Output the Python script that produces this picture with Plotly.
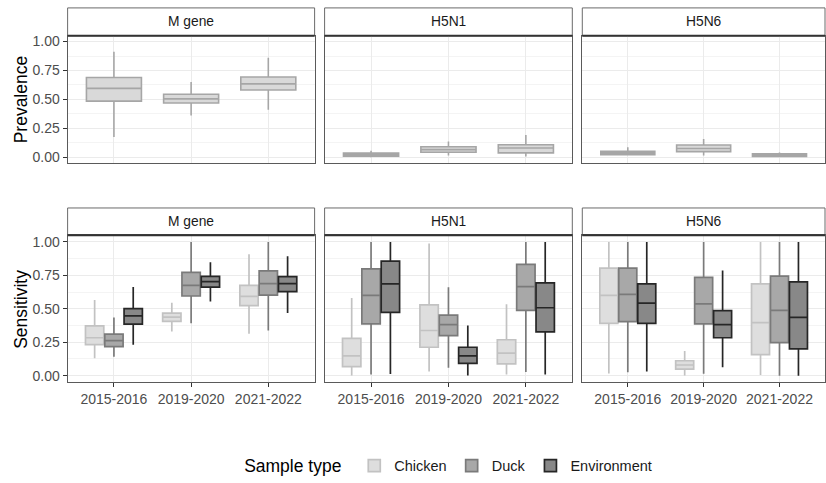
import plotly.graph_objects as go
from plotly.subplots import make_subplots

years = ["2015-2016", "2019-2020", "2021-2022"]
targets = ["M gene", "H5N1", "H5N6"]
sample_types = ["Chicken", "Duck", "Environment"]

# five-number summaries per year: (lower whisker, q1, median, q3, upper whisker)
prevalence = {
    "M gene": [(0.175, 0.485, 0.595, 0.689, 0.912), (0.36, 0.468, 0.504, 0.544, 0.651), (0.41, 0.581, 0.634, 0.694, 0.859)],
    "H5N1": [(0.0, 0.008, 0.02, 0.035, 0.055), (0.014, 0.042, 0.065, 0.09, 0.136), (0.005, 0.037, 0.079, 0.107, 0.192)],
    "H5N6": [(0.014, 0.022, 0.037, 0.051, 0.085), (0.014, 0.048, 0.075, 0.105, 0.156), (0.0, 0.005, 0.015, 0.028, 0.04)],
}
sens_chicken = {
    "M gene": [(0.13, 0.232, 0.284, 0.372, 0.566), (0.331, 0.407, 0.438, 0.468, 0.546), (0.313, 0.524, 0.593, 0.676, 0.909)],
    "H5N1": [(0.002, 0.068, 0.149, 0.279, 0.581), (0.032, 0.213, 0.338, 0.529, 0.988), (0.01, 0.088, 0.169, 0.269, 0.534)],
    "H5N6": [(0.017, 0.392, 0.601, 0.804, 1.0), (0.002, 0.05, 0.08, 0.112, 0.184), (0.005, 0.157, 0.397, 0.686, 1.0)],
}
sens_duck = {
    "M gene": [(0.142, 0.218, 0.262, 0.311, 0.436), (0.392, 0.596, 0.676, 0.772, 1.0), (0.338, 0.603, 0.688, 0.784, 1.0)],
    "H5N1": [(0.01, 0.387, 0.601, 0.799, 1.0), (0.06, 0.299, 0.382, 0.453, 0.662), (0.027, 0.489, 0.666, 0.833, 1.0)],
    "H5N6": [(0.025, 0.404, 0.608, 0.804, 1.0), (0.015, 0.387, 0.537, 0.735, 1.0), (0.0, 0.248, 0.489, 0.745, 1.0)],
}
sens_environment = {
    "M gene": [(0.232, 0.385, 0.448, 0.502, 0.664), (0.554, 0.662, 0.703, 0.743, 0.848), (0.468, 0.629, 0.688, 0.741, 0.894)],
    "H5N1": [(0.012, 0.473, 0.686, 0.857, 1.0), (0.002, 0.093, 0.149, 0.213, 0.375), (0.01, 0.328, 0.508, 0.694, 1.0)],
    "H5N6": [(0.032, 0.392, 0.542, 0.686, 1.0), (0.063, 0.284, 0.382, 0.486, 0.787), (0.0, 0.2, 0.436, 0.701, 1.0)],
}
y_ticks = [0, 0.25, 0.5, 0.75, 1.0]
y_ticktext = ["0.00", "0.25", "0.50", "0.75", "1.00"]

W, H = 826, 483
FONT = "Liberation Sans, Arial, sans-serif"

type_style = {
    "Chicken": dict(fill="rgba(222,222,222,1)", line="#c2c2c2"),
    "Duck": dict(fill="rgba(168,168,168,1)", line="#7a7a7a"),
    "Environment": dict(fill="rgba(136,136,136,1)", line="#262626"),
}
sens_data = {"Chicken": sens_chicken, "Duck": sens_duck, "Environment": sens_environment}

fig = make_subplots(rows=2, cols=3)

def stats(rows):
    lo, q1, md, q3, hi = zip(*rows)
    return dict(lowerfence=list(lo), q1=list(q1), median=list(md), q3=list(q3), upperfence=list(hi))

for c, t in enumerate(targets, start=1):
    fig.add_trace(go.Box(x=years, **stats(prevalence[t]), name="Prevalence",
                         fillcolor="#d9d9d9", line=dict(color="#a6a6a6", width=1.6),
                         whiskerwidth=0, boxpoints=False, showlegend=False,
                         alignmentgroup=f"r1c{c}", offsetgroup="prev", hoverinfo="skip"),
                  row=1, col=c)
    for st in sample_types:
        sty = type_style[st]
        fig.add_trace(go.Box(x=years, **stats(sens_data[st][t]), name=st, legendgroup=st,
                             fillcolor=sty["fill"], line=dict(color=sty["line"], width=1.7),
                             whiskerwidth=0, boxpoints=False, showlegend=(c == 1),
                             alignmentgroup=f"r2c{c}", offsetgroup=st, hoverinfo="skip"),
                      row=2, col=c)

col_px = [(67.7, 315.0), (325.0, 573.0), (583.0, 826.0)]
row_px = [(34.3, 163.3), (236.7, 386.0)]
strip_px = [(6.0, 34.3), (209.0, 236.7)]

def px_x(p):
    return p / W

def px_y(p):
    return 1 - p / H

shapes = []
annotations = []
for r in range(2):
    for c in range(3):
        idx = r * 3 + c + 1
        xa = "xaxis" if idx == 1 else f"xaxis{idx}"
        ya = "yaxis" if idx == 1 else f"yaxis{idx}"
        x0, x1 = col_px[c]
        y0, y1 = row_px[r]
        fig.layout[xa].update(
            domain=[px_x(x0), min(px_x(x1), 1.0)], range=[-0.6, 2.6], type="category",
            showgrid=True, gridcolor="#ebebeb", gridwidth=1.1, zeroline=False,
            showline=True, mirror=True, linecolor="#5a5a5a", linewidth=1,
            ticks="outside" if r == 1 else "", ticklen=4, tickcolor="#333333",
            showticklabels=(r == 1), tickfont=dict(family=FONT, size=14, color="#4d4d4d"),
            categoryorder="array", categoryarray=years,
        )
        fig.layout[ya].update(
            domain=[px_y(y1), px_y(y0)], range=[-0.05, 1.05],
            tickvals=y_ticks, ticktext=y_ticktext,
            showgrid=True, gridcolor="#ebebeb", gridwidth=1.1, zeroline=False,
            minor=dict(tickvals=[0.125, 0.375, 0.625, 0.875], showgrid=True, gridcolor="#f4f4f4", gridwidth=0.6),
            showline=True, mirror=True, linecolor="#5a5a5a", linewidth=1,
            ticks="outside" if c == 0 else "", ticklen=4, tickcolor="#333333",
            showticklabels=(c == 0), tickfont=dict(family=FONT, size=14, color="#4d4d4d"),
        )
        s0, s1 = strip_px[r]
        shapes.append(dict(type="rect", xref="paper", yref="paper",
                           x0=px_x(x0), x1=min(px_x(x1), 1.0), y0=px_y(s1), y1=px_y(s0),
                           fillcolor="white", line=dict(color="#6a6a6a", width=1), layer="below"))
        shapes.append(dict(type="line", xref="paper", yref="paper",
                           x0=px_x(x0), x1=min(px_x(x1), 1.0), y0=px_y(s1), y1=px_y(s1),
                           line=dict(color="#333333", width=2)))
        annotations.append(dict(text=targets[c], xref="paper", yref="paper",
                                x=px_x((x0 + x1) / 2), y=px_y((s0 + s1) / 2),
                                xanchor="center", yanchor="middle", showarrow=False,
                                font=dict(family=FONT, size=13.8, color="#1a1a1a")))

for (y0, y1), title in zip(row_px, ["Prevalence", "Sensitivity"]):
    annotations.append(dict(text=title, xref="paper", yref="paper", x=px_x(21), y=px_y((y0 + y1) / 2),
                            xanchor="center", yanchor="middle", textangle=-90, showarrow=False,
                            font=dict(family=FONT, size=17.5, color="#000000")))

fig.update_layout(
    width=W, height=H, margin=dict(l=0, r=0, t=0, b=0),
    paper_bgcolor="white", plot_bgcolor="white",
    boxmode="group", boxgap=0.25, boxgroupgap=0.05,
    shapes=shapes, annotations=annotations,
    legend=dict(orientation="h", x=0.545, xanchor="center", y=1 - 471 / H, yanchor="middle",
                title=dict(text="Sample type ", font=dict(family=FONT, size=17.5, color="#000000"), side="left"),
                font=dict(family=FONT, size=14.5, color="#1a1a1a"), itemwidth=30),
    font=dict(family=FONT),
)

fig.write_html("out.html")
